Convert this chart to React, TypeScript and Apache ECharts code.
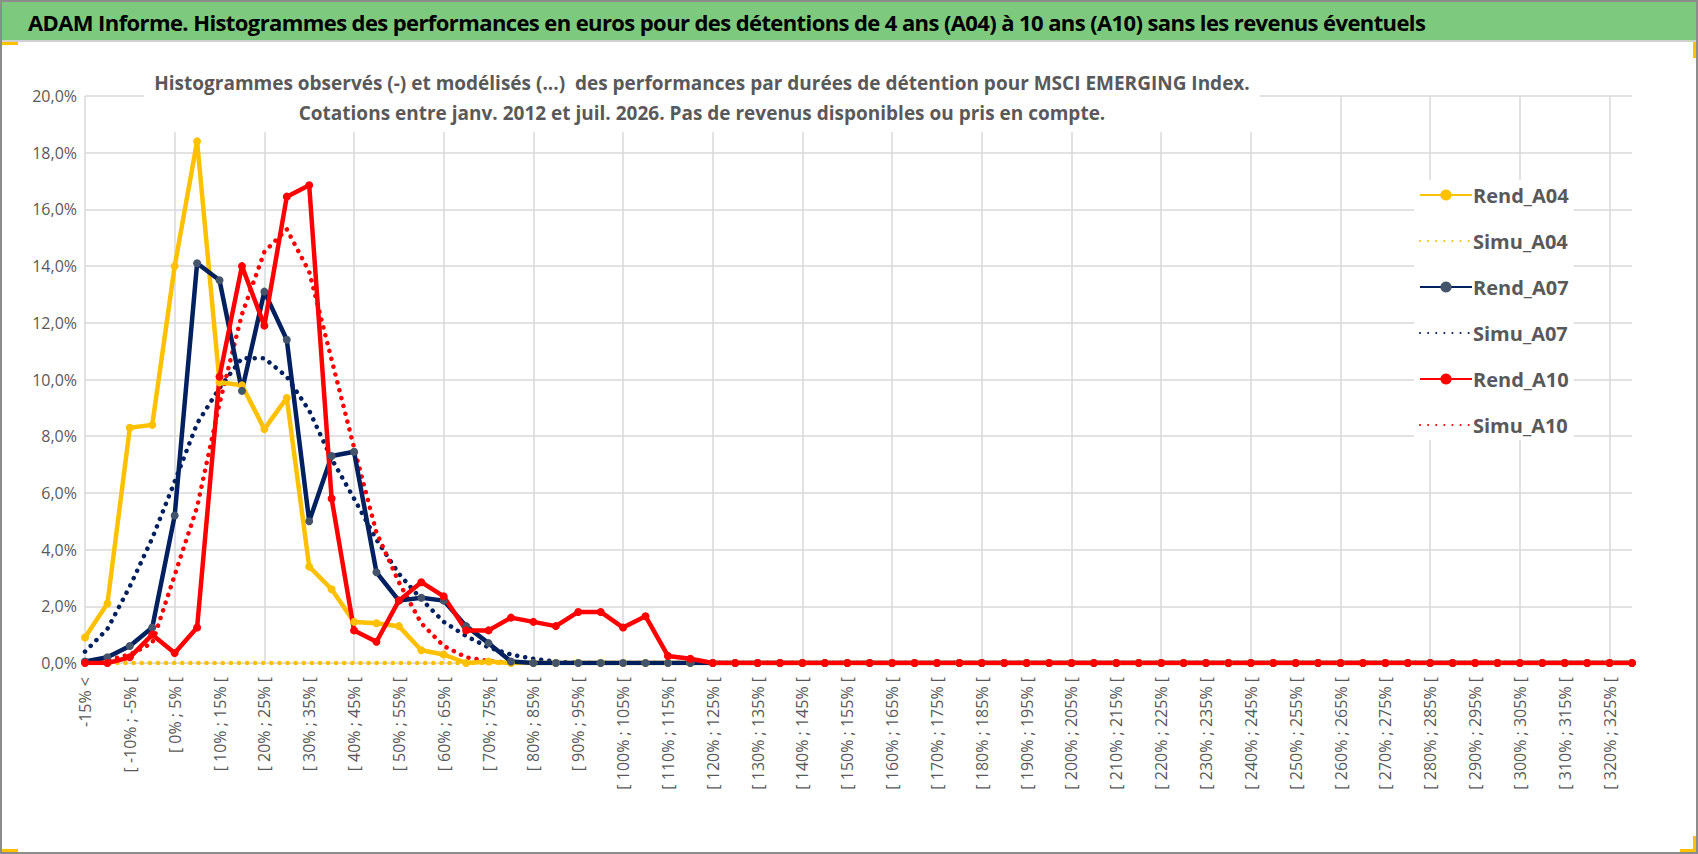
import { useEffect, useRef } from 'react';
import * as echarts from 'echarts';

// categories: "-15% <" then 5% buckets up to [325% ; 330% [
const categories: string[] = ['-15% <'];
for (let lo = -15; lo < 330; lo += 5) categories.push(`[ ${lo}% ; ${lo + 5}% [`);

const pad = (vals: number[]) => vals.concat(new Array(categories.length - vals.length).fill(0));

const rendA04 = pad([0.9, 2.1, 8.3, 8.4, 14.0, 18.4, 9.9, 9.8, 8.25, 9.35, 3.4, 2.6, 1.45, 1.4, 1.3, 0.45, 0.3, 0.0, 0.05]);
const simuA04 = pad([]);
const rendA07 = pad([0.05, 0.2, 0.6, 1.25, 5.2, 14.1, 13.5, 9.6, 13.1, 11.4, 5.0, 7.3, 7.45, 3.2, 2.2, 2.3, 2.2, 1.3, 0.7, 0.05]);
const simuA07 = pad([0.4, 1.2, 2.7, 4.4, 6.4, 8.45, 9.7, 10.75, 10.75, 10.1, 8.9, 7.2, 5.8, 4.35, 3.15, 2.25, 1.45, 0.95, 0.55, 0.3, 0.15, 0.05]);
const rendA10 = pad([0, 0, 0.2, 1.0, 0.35, 1.25, 10.1, 14.0, 11.9, 16.45, 16.85, 5.8, 1.15, 0.75, 2.2, 2.85, 2.35, 1.15, 1.15, 1.6, 1.45, 1.3, 1.8, 1.8, 1.25, 1.65, 0.25, 0.15]);
const simuA10 = pad([0.03, 0.1, 0.3, 0.7, 3.1, 5.5, 9.15, 12.3, 14.5, 15.3, 13.8, 10.7, 7.6, 4.6, 2.85, 1.4, 0.6, 0.2, 0.07]);

const yTicks = [0, 2, 4, 6, 8, 10, 12, 14, 16, 18, 20];

const YELLOW = '#ffc000';
const NAVY = '#002060';
const RED = '#ff0000';
const FONT = '"Open Sans", "Noto Sans", sans-serif';

const rend = (name: string, data: number[], color: string, marker: string) => ({
  name,
  type: 'line',
  data,
  symbol: 'circle',
  symbolSize: 8,
  itemStyle: { color: marker },
  lineStyle: { color, width: 4.5 },
  z: 3,
});

const simu = (name: string, data: number[], color: string) => ({
  name,
  type: 'line',
  data,
  symbol: 'none',
  itemStyle: { color },
  lineStyle: { color, width: 4.5, type: [0.1, 8], cap: 'round' },
  z: 2,
});

export default function App() {
  const ref = useRef<HTMLDivElement>(null);

  useEffect(() => {
    if (!ref.current) return;
    const chart = echarts.init(ref.current, null, { renderer: 'svg' });
    chart.setOption({
      animation: false,
      backgroundColor: '#fff',
      title: {
        text: 'Histogrammes observés (-) et modélisés (...)  des performances par durées de détention pour MSCI EMERGING Index.\nCotations entre janv. 2012 et juil. 2026. Pas de revenus disponibles ou pris en compte.',
        left: 690,
        top: 20,
        textAlign: 'center',
        backgroundColor: '#fff',
        padding: [4, 10],
        textStyle: { fontFamily: FONT, fontSize: 19, fontWeight: 'bold', color: '#595959', lineHeight: 30, align: 'center' },
      },
      legend: {
        orient: 'vertical',
        left: 1412,
        top: 136,
        itemWidth: 52,
        itemHeight: 14,
        itemGap: 26,
        backgroundColor: '#fff',
        textStyle: { fontFamily: FONT, fontSize: 20, fontWeight: 'bold', color: '#595959', padding: [0, 0, 0, -4] },
        data: [
          'Rend_A04',
          { name: 'Simu_A04', itemStyle: { opacity: 0 } },
          'Rend_A07',
          { name: 'Simu_A07', itemStyle: { opacity: 0 } },
          'Rend_A10',
          { name: 'Simu_A10', itemStyle: { opacity: 0 } },
        ],
      },
      grid: { left: 83, right: 60, top: 52, bottom: 187 },
      xAxis: {
        type: 'category',
        data: categories,
        boundaryGap: false,
        axisLine: { lineStyle: { color: '#d9d9d9' } },
        axisTick: { show: false },
        axisLabel: { interval: 1, rotate: 90, fontFamily: FONT, fontSize: 16, color: '#595959', margin: 14 },
        splitLine: { show: true, interval: 3, lineStyle: { color: '#d9d9d9', width: 1.5 } },
      },
      yAxis: {
        type: 'value',
        min: 0,
        max: 20,
        interval: 2,
        axisLine: { show: false },
        axisTick: { show: false },
        axisLabel: {
          fontFamily: FONT,
          fontSize: 16,
          color: '#595959',
          formatter: (v: number) => (yTicks.includes(v) ? v.toFixed(1).replace('.', ',') + '%' : ''),
        },
        splitLine: { lineStyle: { color: '#d9d9d9', width: 1.5 } },
      },
      series: [
        rend('Rend_A04', rendA04, YELLOW, YELLOW),
        simu('Simu_A04', simuA04, YELLOW),
        rend('Rend_A07', rendA07, NAVY, '#44546a'),
        simu('Simu_A07', simuA07, NAVY),
        rend('Rend_A10', rendA10, RED, RED),
        simu('Simu_A10', simuA10, RED),
      ],
    });
    return () => chart.dispose();
  }, []);

  const corner = (s: React.CSSProperties): React.CSSProperties => ({ position: 'absolute', background: YELLOW, ...s });

  return (
    <div style={{ position: 'fixed', inset: 0, background: '#fff', overflow: 'hidden' }}>
      <div style={{ position: 'absolute', left: 0, top: 0, width: 1694, height: 850, border: '2px solid #8c8c8c' }} />
      <div
        style={{
          position: 'absolute', left: 2, top: 2, width: 1694, height: 40, background: '#7dc97d',
          borderBottom: '2px solid #d0d0d0', fontFamily: FONT, fontWeight: 'bold', fontSize: 22,
          lineHeight: '40px', paddingLeft: 26, boxSizing: 'border-box', color: '#000', letterSpacing: -0.6,
        }}
      >
        ADAM Informe. Histogrammes des performances en euros pour des détentions de 4 ans (A04) à 10 ans (A10) sans les revenus éventuels
      </div>
      <div ref={ref} style={{ position: 'absolute', left: 2, top: 44, width: 1690, height: 806 }} />
      <div style={corner({ left: 2, top: 42, width: 16, height: 3 })} />
      <div style={corner({ right: 2, top: 42, width: 3, height: 16 })} />
      <div style={corner({ right: 2, bottom: 2, width: 16, height: 3 })} />
      <div style={corner({ right: 2, bottom: 2, width: 3, height: 16 })} />
      <div style={corner({ left: 2, bottom: 2, width: 16, height: 3 })} />
    </div>
  );
}
